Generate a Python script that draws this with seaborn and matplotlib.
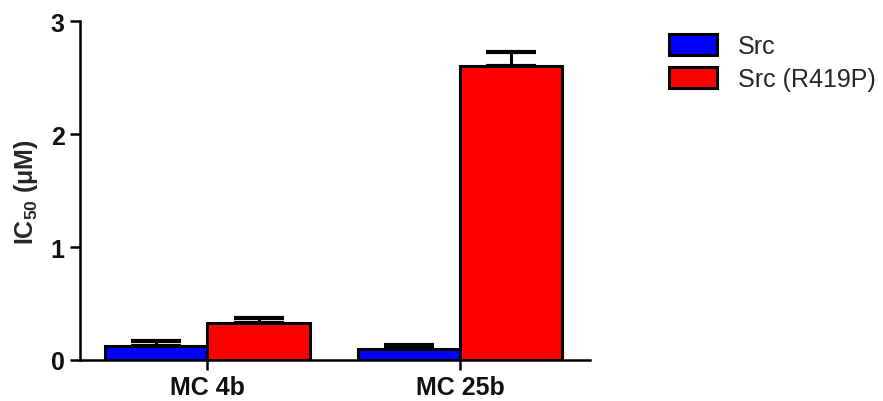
import numpy as np
import pandas as pd
import matplotlib
matplotlib.use('Agg')
import matplotlib.pyplot as plt
import seaborn as sns

# values
compounds = ['MC 4b', 'MC 25b']
series = ['Src', 'Src (R419P)']
src_ic50 = [0.125, 0.10]
src_err = [0.04, 0.035]
mut_ic50 = [0.33, 2.60]
mut_err = [0.045, 0.13]
bar_colors = ['#0000ff', '#ff0000']

df = pd.DataFrame({
	'compound': compounds * 2,
	'series': [series[0]] * 2 + [series[1]] * 2,
	'ic50': src_ic50 + mut_ic50,
	'err': src_err + mut_err,
})

sns.set_style('white')
plt.rcParams['font.family'] = ['Liberation Sans', 'DejaVu Sans']
plt.rcParams['mathtext.fontset'] = 'custom'
plt.rcParams['mathtext.rm'] = 'Liberation Sans'
plt.rcParams['mathtext.bf'] = 'Liberation Sans:bold'

fig = plt.figure(figsize=(8.83, 4.02), dpi=100)
ax = fig.add_axes([0.0906, 0.102, 0.578, 0.843])

sns.barplot(data=df, x='compound', y='ic50', hue='series', order=compounds, hue_order=series,
	palette=bar_colors, saturation=1, width=0.81, edgecolor='black', linewidth=2.2,
	errorbar=None, ax=ax, zorder=2)

# upper-only error bars, drawn behind the bars
for cont, s in zip(ax.containers, series):
	sub = df[df['series'] == s].set_index('compound').loc[compounds]
	xs = [p.get_x() + p.get_width() / 2 for p in cont.patches]
	ax.errorbar(xs, sub['ic50'], yerr=[np.zeros(len(xs)), sub['err']], fmt='none',
		ecolor='black', elinewidth=2.2, capsize=18, capthick=3, zorder=1)

ax.set_ylim(0, 3)
ax.set_xlim(-0.504, 1.516)
ax.set_yticks([0, 1, 2, 3])
ax.set_xlabel('')
ax.set_ylabel(r'IC$_{\mathbf{50}}$ (μM)', fontsize=18, fontweight='bold', labelpad=8)
ax.tick_params(axis='both', direction='out', length=7, width=1.8, colors='black', labelsize=18, pad=4)
ax.tick_params(axis='y', left=True)
ax.tick_params(axis='x', bottom=True)
for lbl in ax.get_xticklabels() + ax.get_yticklabels():
	lbl.set_fontweight('bold')
	lbl.set_color('#111111')

sns.despine(ax=ax)
for sp in ['left', 'bottom']:
	ax.spines[sp].set_linewidth(1.8)
	ax.spines[sp].set_color('black')

ax.legend(loc='upper left', bbox_to_anchor=(1.135, 0.99), frameon=False, fontsize=18,
	handlelength=1.9, handleheight=0.9, handletextpad=0.85, labelspacing=0.35, borderaxespad=0)

plt.savefig('out.png', dpi=100)
